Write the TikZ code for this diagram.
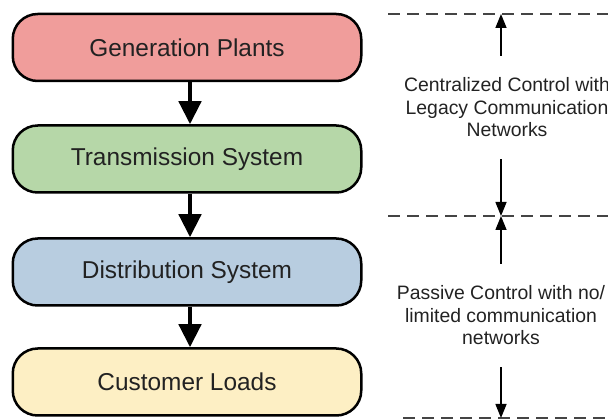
\documentclass[tikz,border=0pt]{standalone}
\usepackage{fontspec}
\setmainfont{Liberation Sans}
\usetikzlibrary{positioning, arrows.meta}
\definecolor{genred}{HTML}{F09D9B}
\definecolor{transgreen}{HTML}{B6D7A8}
\definecolor{distblue}{HTML}{B8CDE0}
\definecolor{loadyellow}{HTML}{FDEFC4}
\definecolor{txtgray}{HTML}{222222}
\definecolor{dashgray}{HTML}{444444}
\tikzstyle{stage} = [rectangle,rounded corners=25pt,draw=black,line width=2.5pt,minimum width=348.5pt,minimum height=67pt,font=\fontsize{24.4}{28}\selectfont,text=txtgray]
\tikzstyle{flow} = [line width=4.5pt,-{Triangle[width=22pt,length=23pt]}]
\tikzstyle{tierline} = [dashgray,line width=2pt,dash pattern=on 12pt off 7pt]
\tikzstyle{reach} = [line width=1.5pt,-{Triangle[width=11pt,length=14pt]}]
\tikzstyle{ctltext} = [align=center,font=\fontsize{19.4}{22.5}\selectfont,text=txtgray,inner ysep=22pt]

\begin{document}
\begin{tikzpicture}[x=1pt,y=1pt]
  \useasboundingbox (0,0) rectangle (608,-419);
  \node[stage,fill=genred] (gen) at (187,-47.5) {Generation Plants};
  \node[stage,fill=transgreen] (trans) at (187,-159) {Transmission System};
  \node[stage,fill=distblue] (dist) at (187,-272) {Distribution System};
  \node[stage,fill=loadyellow] (load) at (187,-382) {Customer Loads};
  \draw[flow] ([xshift=3pt]gen.south) -- ([xshift=3pt]trans.north);
  \draw[flow] ([xshift=3pt]trans.south) -- ([xshift=3pt]dist.north);
  \draw[flow] ([xshift=3pt]dist.south) -- ([xshift=3pt]load.north);
  \draw[tierline] (388,-14) -- (620,-14);
  \draw[tierline] (388,-216) -- (620,-216);
  \draw[tierline] (403,-418) -- (620,-418);
  \coordinate (top) at (501,-14);
  \coordinate (mid) at (501,-216);
  \coordinate (bot) at (501,-418);
  \node[ctltext] (ctl) at (507,-107.5) {Centralized Control with\\Legacy Communication\\Networks};
  \node[ctltext] (psv) at (501,-315.5) {Passive Control with no/\\limited communication\\networks};
  \draw[reach] (ctl.north -| top) -- (top);
  \draw[reach] (ctl.south -| top) -- (mid);
  \draw[reach] (psv.north) -- (mid);
  \draw[reach] (psv.south) -- (bot);
\end{tikzpicture}
\end{document}
